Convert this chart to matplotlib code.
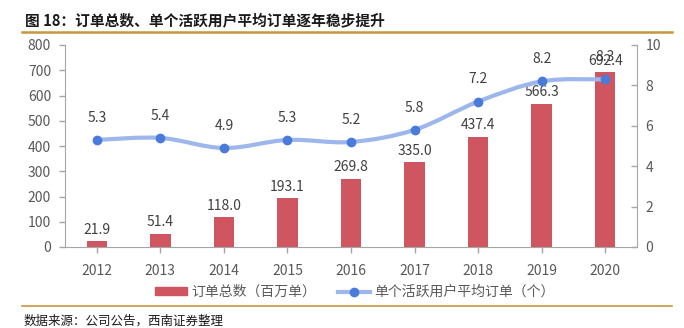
import matplotlib
matplotlib.use("Agg")
import matplotlib.pyplot as plt
import numpy as np
from matplotlib.path import Path
from matplotlib.patches import PathPatch, Patch
from matplotlib.lines import Line2D

plt.rcParams['font.family'] = ['Noto Sans CJK SC', 'DejaVu Sans']

years = ['2012', '2013', '2014', '2015', '2016', '2017', '2018', '2019', '2020']
orders = [21.9, 51.4, 118.0, 193.1, 269.8, 335.0, 437.4, 566.3, 692.4]
avg_orders = [5.3, 5.4, 4.9, 5.3, 5.2, 5.8, 7.2, 8.2, 8.3]

title = '图 18：订单总数、单个活跃用户平均订单逐年稳步提升'
source = '数据来源：公司公告，西南证券整理'
bar_label = '订单总数（百万单）'
line_label = '单个活跃用户平均订单（个）'

bar_color = '#CF5660'
line_color = '#9DB6EC'
marker_color = '#4A7BDB'
grey = '#595959'
axis_grey = '#A6A6A6'
gold = '#C9953F'

fig = plt.figure(figsize=(6.84, 3.28), dpi=100)
ax = fig.add_axes([65/684, 1-247/328, (637-65)/684, (247-45)/328])
ax2 = ax.twinx()

x = np.arange(len(years))
ax.bar(x, orders, width=0.32, color=bar_color, zorder=2)
ax.set_ylim(0, 800)
ax.set_yticks(range(0, 801, 100))
ax.set_xlim(-0.5, len(years)-0.5)
ax.set_xticks(x)
ax.set_xticklabels(years)

for xi, v in zip(x, orders):
    ax.text(xi, v + 18, f'{v:.1f}', ha='center', va='bottom', fontsize=10, color='#404040', zorder=5)

# smooth line (Catmull-Rom converted to Bezier segments)
ax2.set_ylim(0, 10)
ax2.set_yticks(range(0, 11, 2))
pts = np.column_stack([x, avg_orders]).astype(float)
verts = [tuple(pts[0])]
codes = [Path.MOVETO]
n = len(pts)
for i in range(n-1):
    p0 = pts[i-1] if i > 0 else pts[i]
    p1 = pts[i]
    p2 = pts[i+1]
    p3 = pts[i+2] if i+2 < n else pts[i+1]
    c1 = p1 + (p2 - p0) / 6
    c2 = p2 - (p3 - p1) / 6
    verts += [tuple(c1), tuple(c2), tuple(p2)]
    codes += [Path.CURVE4]*3
ax2.add_patch(PathPatch(Path(verts, codes), fill=False, edgecolor=line_color, lw=3, zorder=3))
ax2.plot(x, avg_orders, 'o', color=marker_color, ms=6, zorder=4)
for xi, v in zip(x, avg_orders):
    ax2.text(xi, v + 0.75, f'{v:.1f}', ha='center', va='bottom', fontsize=10, color='#404040', zorder=5)

for a in (ax, ax2):
    for s in a.spines.values():
        s.set_visible(False)
    a.tick_params(colors=grey, labelsize=10, width=1)
ax.spines['left'].set_visible(True)
ax.spines['left'].set_color(axis_grey)
ax.spines['bottom'].set_visible(True)
ax.spines['bottom'].set_color(axis_grey)
ax2.spines['right'].set_visible(True)
ax2.spines['right'].set_color(axis_grey)
ax.tick_params(axis='x', length=4, color=axis_grey, pad=8, labelcolor=grey)
ax.tick_params(axis='y', length=4, color=axis_grey, direction='out', pad=6, labelcolor=grey)
ax2.tick_params(axis='y', length=4, color=axis_grey, direction='in', pad=6, labelcolor=grey)
ax.patch.set_visible(False)

handles = [Patch(color=bar_color),
           Line2D([0], [0], color=line_color, lw=3, marker='o', mfc=marker_color, mec=marker_color, ms=6)]
fig.legend(handles, [bar_label, line_label], loc='center', bbox_to_anchor=(355/684, 1-292/328),
           ncol=2, frameon=False, fontsize=10, labelcolor=grey, handlelength=2.3, handleheight=0.5,
           columnspacing=1.6, handletextpad=0.3)

fig.text(25/684, 1-20/328, title, fontsize=10.6, fontweight='bold', color='#1a1a1a', va='center', ha='left')
fig.add_artist(Line2D([22/684, 672/684], [1-32/328, 1-32/328], color=gold, lw=1.8))
fig.add_artist(Line2D([22/684, 672/684], [1-306/328, 1-306/328], color=gold, lw=1.2))
fig.text(24/684, 1-321/328, source, fontsize=9, color='#1a1a1a', va='center', ha='left', style='italic')

fig.savefig('out.png', dpi=100)
